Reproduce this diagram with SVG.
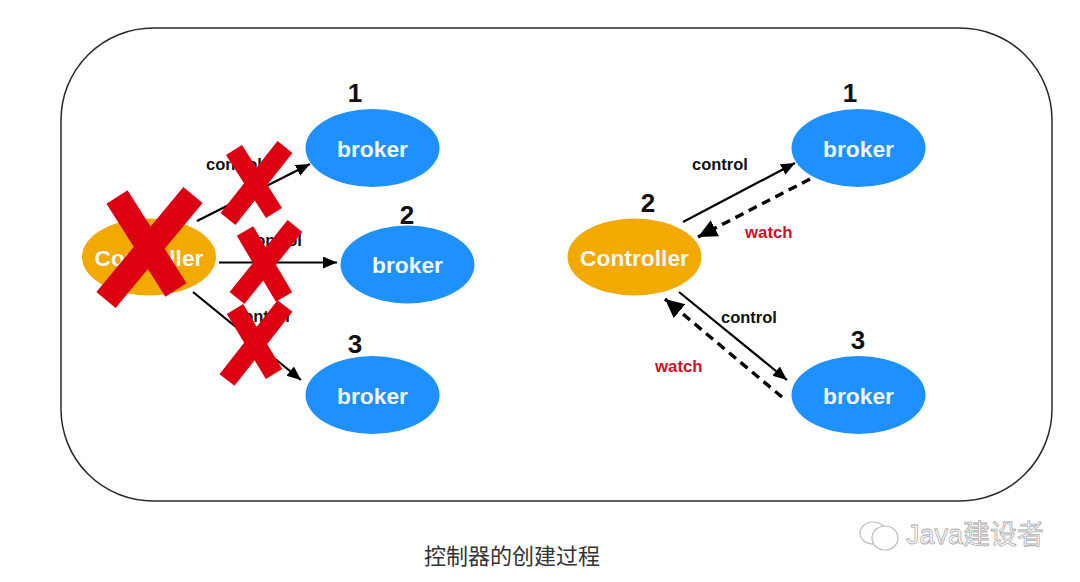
<svg xmlns="http://www.w3.org/2000/svg" width="1080" height="582" viewBox="0 0 1080 582">
<style>
.frame{fill:#fff;stroke:#2a2a2a;stroke-width:1.5}
.broker{fill:#1e90ff}
.ctrl{fill:#f2a900}
.in{font:bold 22.800px "Liberation Sans",Arial,sans-serif;fill:#f4f8fc;text-anchor:middle}
.num{font:bold 26px "Liberation Sans",Arial,sans-serif;fill:#111;text-anchor:middle}
.lb{font:bold 16.500px "Liberation Sans",Arial,sans-serif;fill:#111}
.w{font:bold 16.800px "Liberation Sans",Arial,sans-serif;fill:#d0112b}
.s{fill:none;stroke:#000;stroke-width:2.2;marker-end:url(#a)}
.d{fill:none;stroke:#000;stroke-width:3.4;stroke-dasharray:9 6;marker-end:url(#b)}
.x{fill:none;stroke:#dd0011;stroke-linecap:butt}
.cap{font:22px "Noto Sans CJK SC",sans-serif;fill:#333}
.wm{font:27px "Liberation Sans","Noto Sans CJK SC",sans-serif;fill:#fff;stroke:#aaa;stroke-width:.8}
.ic{fill:#fff;stroke:#bbb;stroke-width:1.2}
</style>
<defs>
<marker id="a" markerUnits="userSpaceOnUse" markerWidth="16" markerHeight="14" refX="14" refY="6" orient="auto"><path d="M0 0L14 6L0 12Z" fill="#000"/></marker>
<marker id="b" markerUnits="userSpaceOnUse" markerWidth="22" markerHeight="20" refX="19" refY="9" orient="auto"><path d="M0 0L19 9L0 18Z" fill="#000"/></marker>
</defs>
<rect width="1080" height="582" fill="#fff"/>
<rect class="frame" x="61" y="28" width="991" height="473" rx="92" ry="92"/>
<g id="connectors">
<path class="s" d="M197 221L310 164"/>
<path class="s" d="M219 262.500L337 262.500"/>
<path class="s" d="M193 292L301 380"/>
<path class="s" d="M683 222L795 163"/>
<path class="d" d="M810 179L698 237"/>
<path class="s" d="M679 292L787 380"/>
<path class="d" d="M782 397L665 299"/>
</g>
<g id="labels">
<text class="lb" x="206" y="170">control</text>
<text class="lb" x="246" y="246">control</text>
<text class="lb" x="234" y="322">control</text>
<text class="lb" x="692" y="170">control</text>
<text class="lb" x="721" y="323">control</text>
<text class="w" x="745" y="238">watch</text>
<text class="w" x="655" y="372">watch</text>
</g>
<g id="left-broker-1"><ellipse class="broker" cx="372.500" cy="148" rx="67" ry="39"/><text class="in" x="372.500" y="157">broker</text><text class="num" x="355" y="102">1</text></g>
<g id="left-broker-2"><ellipse class="broker" cx="407.500" cy="264.500" rx="67" ry="39"/><text class="in" x="407.500" y="273">broker</text><text class="num" x="407" y="224">2</text></g>
<g id="left-broker-3"><ellipse class="broker" cx="372.500" cy="395" rx="67" ry="39"/><text class="in" x="372.500" y="404">broker</text><text class="num" x="355" y="353">3</text></g>
<g id="left-controller"><ellipse class="ctrl" cx="149" cy="257" rx="67" ry="38.500"/><text class="in" x="149" y="266">Controller</text></g>
<g id="right-controller"><ellipse class="ctrl" cx="634.500" cy="257" rx="67" ry="38.500"/><text class="in" x="634.500" y="266">Controller</text><text class="num" x="648" y="212">2</text></g>
<g id="right-broker-1"><ellipse class="broker" cx="858.500" cy="148" rx="67" ry="39"/><text class="in" x="858.500" y="157">broker</text><text class="num" x="850" y="102">1</text></g>
<g id="right-broker-3"><ellipse class="broker" cx="858.500" cy="395" rx="67" ry="39"/><text class="in" x="858.500" y="404">broker</text><text class="num" x="858" y="349">3</text></g>
<g id="crosses">
<path class="x" stroke-width="25" d="M117 197L176 290M193 195L106 300"/>
<path class="x" stroke-width="19" d="M234 150L274 213M285 147L228 219"/>
<path class="x" stroke-width="19" d="M245 231L284 297M295 226L237 298"/>
<path class="x" stroke-width="19" d="M235 309L274 374M285 306L227 380"/>
</g>
<text id="caption" class="cap" x="424" y="564">控制器的创建过程</text>
<g id="watermark">
<ellipse class="ic" cx="873" cy="533" rx="13" ry="11"/>
<ellipse class="ic" cx="885" cy="538" rx="13" ry="12"/>
<text class="wm" x="906" y="544">Java建设者</text>
</g>
</svg>
